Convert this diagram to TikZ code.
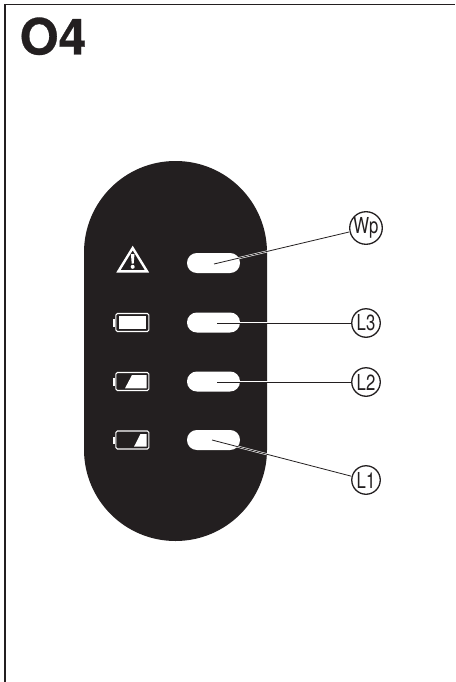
\documentclass[tikz,border=0pt]{standalone}
\usepackage{fontspec}
\setmainfont{TeX Gyre Heros}
\newfontfamily\titlefont[FakeBold=0.6]{TeX Gyre Heros Bold}
\definecolor{ink}{HTML}{231F20}
\newcommand{\calltext}[1]{\scalebox{0.76}[1]{\fontsize{22}{22}\selectfont #1}}
\tikzset{
  panelbody/.style={fill=ink,draw=none,rounded corners=91.4pt,minimum width=183pt,minimum height=380pt,inner sep=0pt},
  ledpill/.style={fill=white,draw=none,rounded corners=9.9pt,minimum width=53pt,minimum height=20pt,inner sep=0pt},
  callout/.style={circle,draw=ink,line width=1.3pt,fill=white,minimum size=28.5pt,inner sep=0pt,text=ink},
  leader/.style={draw=ink,line width=0.8pt,preaction={draw=white,line width=2pt}},
  battshell/.style={draw=white,line width=1.1pt,rounded corners=1.5pt},
  battfill/.style={fill=white,draw=none},
}
\begin{document}
\begin{tikzpicture}[x=1pt,y=-1pt]
\useasboundingbox (0,0) rectangle (455,682);
\draw[ink,line width=1.2pt] (5,682) -- (5,4.5) -- (455,4.5);
\node[anchor=base west,inner sep=0pt,text=ink,font=\titlefont\fontsize{50}{50}\selectfont] (title) at (19.5,54.5) {O4};
\node[panelbody] (body) at (175.5,351) {};
\node[ledpill] (wp) at (213.5,263) {};
\node[ledpill] (l3) at (213.5,322.5) {};
\node[ledpill] (l2) at (213.5,381.5) {};
\node[ledpill] (l1) at (213.5,440) {};
\node[callout] (cwp) at (366,228) {\calltext{Wp}};
\node[callout] (cl3) at (366,323) {\calltext{L3}};
\node[callout] (cl2) at (366,382) {\calltext{L2}};
\node[callout] (cl1) at (366,480) {\calltext{L1}};
\coordinate (swp) at (214,264);
\coordinate (sl3) at (217,323);
\coordinate (sl2) at (217,382);
\coordinate (sl1) at (212,440);
\path[leader] (swp) -- (cwp);
\path[leader] (sl3) -- (cl3);
\path[leader] (sl2) -- (cl2);
\path[leader] (sl1) -- (cl1);
% warning icon
\draw[white,line width=2.4pt,line join=miter] (132.7,248) -- (147,271.3) -- (118.4,271.3) -- cycle;
\fill[white] (130.9,254) -- (134.5,254) -- (133.7,263.5) -- (131.7,263.5) -- cycle;
\fill[white] (132.7,266.8) circle (2pt);
% batteries
\foreach \y in {313.5,372.5,431}{
  \draw[battshell] (115.8,\y) rectangle (148.8,\y+18);
  \fill[white] (112.5,\y+5.5) rectangle (115.3,\y+13);
}
\fill[battfill] (118.5,316) rectangle (146.3,329);
\fill[battfill] (125,388.3) -- (132,375) -- (146.5,375) -- (146.5,388.3) -- cycle;
\fill[battfill] (134,446.7) -- (140.5,434) -- (146.5,434) -- (146.5,446.7) -- cycle;
\end{tikzpicture}
\end{document}
